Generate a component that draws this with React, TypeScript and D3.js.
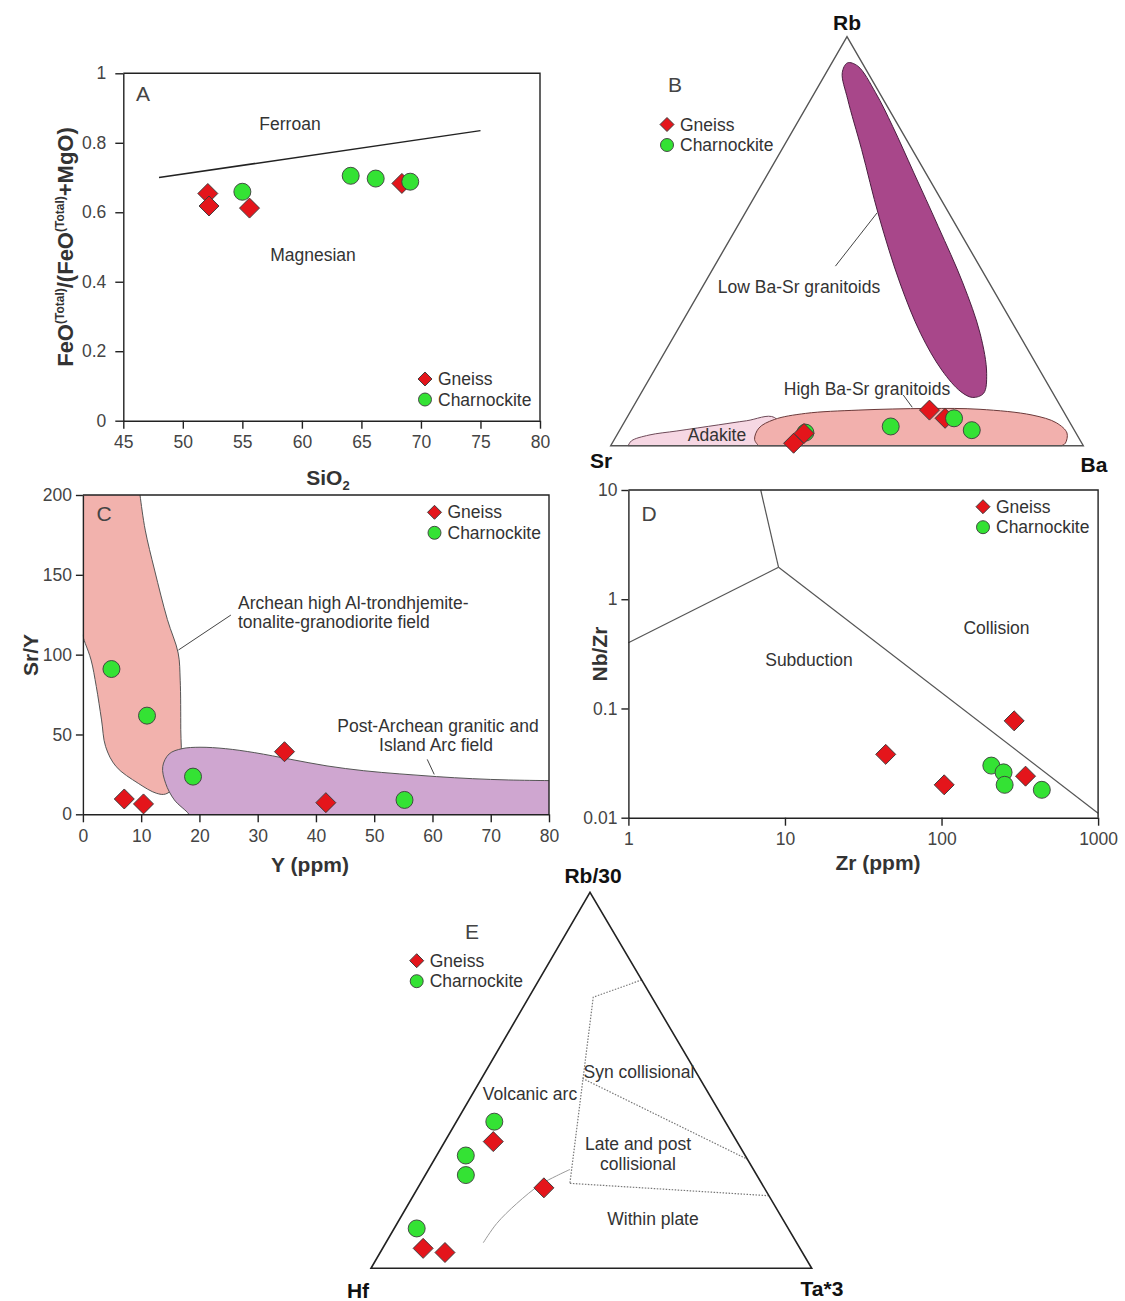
import { useEffect, useRef } from "react"
import * as d3 from "d3"

const W = 1125
const H = 1301
const FONT = "'Liberation Sans', Arial, Helvetica, sans-serif"
const RED = "#e4151b"
const GREEN = "#34e234"

// A: FeOt/(FeOt+MgO) vs SiO2
const aGneiss = [[52.1, 0.654], [52.2, 0.618], [55.6, 0.612], [68.4, 0.683]]
const aCharnockite = [[55.0, 0.659], [64.1, 0.705], [66.2, 0.697], [69.1, 0.688]]
const aFerroanLine = [[48, 0.7], [75, 0.835]]
const aXTicks = [45, 50, 55, 60, 65, 70, 75, 80]
const aYTicks = [0, 0.2, 0.4, 0.6, 0.8, 1]

// B: Rb-Ba-Sr ternary, [Sr, Ba, Rb] in %
const bGneiss = [[61.0, 38.4, 0.6], [57.6, 39.4, 3.0], [28.2, 63.1, 8.7], [25.9, 67.4, 6.7]]
const bCharnockite = [[57.2, 39.6, 3.2], [38.4, 56.9, 4.7], [24.0, 69.3, 6.7], [21.7, 74.5, 3.8]]
const bLowBaSr = [
  [3.1, 3.3, 93.6], [1.3, 5.9, 92.8], [0.8, 12.9, 86.3], [1.3, 20.6, 78.1], [2.5, 30.8, 66.7],
  [3.9, 42.5, 53.6], [5.6, 54.6, 39.8], [8.1, 64.4, 27.5], [11.6, 70.7, 17.7], [14.7, 72.5, 12.8],
  [17.5, 70.7, 11.8], [19.3, 67.5, 13.2], [20.7, 60.8, 18.5], [20.7, 51.8, 27.5], [18.9, 41.3, 39.8],
  [15.2, 28.7, 56.1], [10.7, 16.9, 72.4], [7.5, 7.8, 84.7], [5.4, 3.4, 91.2],
]
const bHighBaSr = [
  [68.7, 31.3, 0], [68.8, 29.7, 1.5], [66.5, 29.2, 4.3], [62.2, 31.4, 6.4], [54.8, 37.3, 7.9],
  [43.3, 48.0, 8.7], [28.4, 62.5, 9.1], [17.4, 73.7, 8.9], [7.1, 85.4, 7.5], [2.9, 91.5, 5.6],
  [1.9, 95.0, 3.1], [3.5, 95.9, 0.6], [4.6, 95.4, 0],
]
const bAdakite = [
  [96.3, 3.7, 0], [95.0, 3.8, 1.2], [90.6, 6.8, 2.6], [84.2, 12.2, 3.6], [74.6, 20.3, 5.1],
  [68.2, 25.7, 6.1], [61.9, 31.2, 6.9], [62.4, 37.6, 0],
]
const bLowLeader = [[30.5, 25.6, 43.9], [15.2, 27.9, 56.9]]
const bHighLeader = [[31.9, 55.7, 12.4], [31.5, 59.1, 9.4]]

// C: Sr/Y vs Y
const cGneiss = [[7.1, 9.6], [10.4, 6.5], [34.6, 39.2], [41.7, 7.3]]
const cCharnockite = [[4.9, 91.0], [11.0, 61.8], [18.9, 23.6], [55.2, 9.0]]
const cArchean = [
  [9.6, 206], [9.8, 200], [10.7, 178], [12.3, 153], [14.5, 122], [16.35, 101], [16.7, 84],
  [16.8, 53], [16.8, 32], [15.7, 17.3], [14.2, 12.7], [12.6, 13.2], [9.5, 19.4], [5.7, 29.9],
  [3.9, 42.4], [3.2, 59.1], [2.3, 80], [1.4, 96.7], [0.4, 107.1], [-0.3, 113.4], [-1.2, 116],
]
const cPostArchean = [
  [18.6, -4], [18.2, 0], [15.7, 9], [14.2, 19.4], [13.7, 29.9], [14.8, 37.8], [17, 41.1],
  [20.1, 42], [24.5, 41.1], [29.5, 38.6], [35.7, 34.4], [41.9, 30.3], [48.2, 27.3], [54.4, 25.3],
  [60.7, 23.6], [66.9, 22.3], [73.1, 21.5], [80, 21.1], [83, 21],
]
const cArcheanLeader = [[16.4, 102.9], [25.4, 124.8]]
const cPostLeader = [[60.3, 25.0], [59.1, 34.4]]
const cXTicks = [0, 10, 20, 30, 40, 50, 60, 70, 80]
const cYTicks = [0, 50, 100, 150, 200]

// D: Nb/Zr vs Zr
const dGneiss = [[44, 0.038], [104, 0.02], [291, 0.077], [344, 0.024]]
const dCharnockite = [[208, 0.03], [249, 0.026], [253, 0.02], [437, 0.018]]
const dBoundaries = [
  [[7.0, 10], [9.1, 1.96]],
  [[1, 0.4], [9.1, 1.96]],
  [[9.1, 1.96], [1000, 0.011]],
]
const dXTicks = [1, 10, 100, 1000]
const dYTicks = [0.01, 0.1, 1, 10]

// E: Hf - Rb/30 - Ta*3 ternary, [Hf, Ta*3, Rb/30] in %
const eGneiss = [[85.5, 9.2, 5.3], [81.1, 14.7, 4.2], [55.3, 11.0, 33.7], [50.0, 28.6, 21.4]]
const eCharnockite = [[84.3, 5.1, 10.6], [63.4, 6.6, 30.0], [66.0, 9.2, 24.8], [52.4, 8.6, 39.0]]
const eDotted = [
  [[0, 23.3, 76.7], [13.3, 14.6, 72.1], [43.5, 33.9, 22.6]],
  [[26.6, 22.9, 50.5], [0, 71.0, 29.0]],
  [[43.5, 33.9, 22.6], [0, 80.7, 19.3]],
]
const eWithinPlate = [
  [71.1, 22.1, 6.8], [65.5, 22.6, 11.9], [58.3, 24.5, 17.2], [50.5, 27.3, 22.2],
  [45.5, 29.9, 24.6], [41.6, 32.1, 26.3],
]

function diamond(g, x, y, half) {
  g.append("path")
    .attr("d", d3.symbol(d3.symbolSquare, 2 * half * half)())
    .attr("transform", `translate(${x},${y}) rotate(45)`)
    .attr("fill", RED)
    .attr("stroke", "#3b3b3b")
    .attr("stroke-width", 0.9)
}

function dot(g, x, y, r) {
  g.append("circle")
    .attr("cx", x)
    .attr("cy", y)
    .attr("r", r)
    .attr("fill", GREEN)
    .attr("stroke", "#3b3b3b")
    .attr("stroke-width", 0.9)
}

function label(g, x, y, s, o: any = {}) {
  return g
    .append("text")
    .attr("x", x)
    .attr("y", y)
    .attr("text-anchor", o.anchor || "middle")
    .attr("font-size", o.size || 17.5)
    .attr("font-weight", o.bold ? "bold" : null)
    .attr("fill", o.fill || "#333")
    .text(s)
}

function legend(g, x, y) {
  diamond(g, x, y, 7)
  label(g, x + 13, y + 6, "Gneiss", { anchor: "start" })
  dot(g, x, y + 20.5, 6.5)
  label(g, x + 13, y + 26.5, "Charnockite", { anchor: "start" })
}

// diamonds listed in onTop are drawn above the circles
function points(g, gneiss, charn, proj, onTop: number[] = []) {
  gneiss.forEach((p, i) => {
    if (!onTop.includes(i)) diamond(g, ...proj(p), 10)
  })
  charn.forEach((p) => dot(g, ...proj(p), 8.5))
  gneiss.forEach((p, i) => {
    if (onTop.includes(i)) diamond(g, ...proj(p), 10)
  })
}

function frame(g, x, y, xTicks, yTicks, fmt, leftTick, leftPad) {
  const [x0, x1] = x.range()
  const [y0, y1] = y.range()
  const bx = g
    .append("g")
    .attr("transform", `translate(0,${y0})`)
    .call(d3.axisBottom(x).tickValues(xTicks).tickFormat(fmt).tickSize(8).tickPadding(7).tickSizeOuter(0))
  const by = g
    .append("g")
    .attr("transform", `translate(${x0},0)`)
    .call(d3.axisLeft(y).tickValues(yTicks).tickFormat(fmt).tickSize(leftTick).tickPadding(leftPad).tickSizeOuter(0))
  for (const a of [bx, by]) {
    a.attr("font-family", FONT).attr("font-size", 17.5)
    a.selectAll("path, line").attr("stroke", "#222").attr("stroke-width", 1.4)
    a.selectAll("text").attr("fill", "#444")
  }
  g.append("path")
    .attr("d", `M${x0},${y1}H${x1}V${y0}`)
    .attr("fill", "none")
    .attr("stroke", "#222")
    .attr("stroke-width", 1.4)
}

function ternary(L, R, T) {
  return (p) => {
    const s = p[0] + p[1] + p[2]
    return [(p[0] * L[0] + p[1] * R[0] + p[2] * T[0]) / s, (p[0] * L[1] + p[1] * R[1] + p[2] * T[1]) / s]
  }
}

const fmt = d3.format("~g")

function drawA(svg) {
  const g = svg.append("g")
  const x = d3.scaleLinear().domain([45, 80]).range([123.3, 540])
  const y = d3.scaleLinear().domain([0, 1]).range([420.7, 73.3])
  const xy = (d) => [x(d[0]), y(d[1])]

  g.append("path")
    .attr("d", d3.line()(aFerroanLine.map(xy)))
    .attr("stroke", "#222")
    .attr("stroke-width", 1.5)
    .attr("fill", "none")

  points(g, aGneiss, aCharnockite, xy)
  frame(g, x, y, aXTicks, aYTicks, fmt, 8, 9)

  label(g, 143, 100.5, "A", { size: 21, fill: "#444" })
  label(g, 290, 130, "Ferroan")
  label(g, 313, 261, "Magnesian")
  legend(g, 425, 379)

  const xt = label(g, 328, 485, "SiO", { size: 21, bold: true, fill: "#333" })
  xt.append("tspan").attr("dy", 5).attr("font-size", 13).text("2")

  const yt = g
    .append("text")
    .attr("transform", "translate(73,247) rotate(-90)")
    .attr("text-anchor", "middle")
    .attr("font-size", 22)
    .attr("font-weight", "bold")
    .attr("fill", "#333")
  yt.append("tspan").text("FeO")
  yt.append("tspan").attr("dy", -9).attr("font-size", 12).text("(Total)")
  yt.append("tspan").attr("dy", 9).text("/(FeO")
  yt.append("tspan").attr("dy", -9).attr("font-size", 12).text("(Total)")
  yt.append("tspan").attr("dy", 9).text("+MgO)")
}

function drawB(svg) {
  const g = svg.append("g")
  const L = [610.7, 445.7]
  const R = [1083.3, 445.7]
  const T = [847, 36.7]
  const tp = ternary(L, R, T)
  const open = d3.line().curve(d3.curveCatmullRom.alpha(0.5))
  const closed = d3.line().curve(d3.curveCatmullRomClosed.alpha(0.5))

  g.append("path")
    .attr("d", open(bAdakite.map(tp)) + "Z")
    .attr("fill", "#f6d7e3")
    .attr("stroke", "#6d4a58")
    .attr("stroke-width", 1)
  g.append("path")
    .attr("d", open(bHighBaSr.map(tp)) + "Z")
    .attr("fill", "#f2b0ad")
    .attr("stroke", "#6b3a3a")
    .attr("stroke-width", 1)
  g.append("path")
    .attr("d", closed(bLowBaSr.map(tp)))
    .attr("fill", "#a8478a")
    .attr("stroke", "#4a1e40")
    .attr("stroke-width", 1)

  g.append("path")
    .attr("d", d3.line()([L, R, T]) + "Z")
    .attr("fill", "none")
    .attr("stroke", "#555")
    .attr("stroke-width", 1.4)

  for (const ld of [bLowLeader, bHighLeader]) {
    g.append("path").attr("d", d3.line()(ld.map(tp))).attr("stroke", "#444").attr("stroke-width", 1).attr("fill", "none")
  }

  points(g, bGneiss, bCharnockite, tp, [0, 1])

  label(g, 847, 30, "Rb", { size: 21, bold: true, fill: "#111" })
  label(g, 601, 468, "Sr", { size: 21, bold: true, fill: "#111" })
  label(g, 1094, 472, "Ba", { size: 21, bold: true, fill: "#111" })
  label(g, 675, 91.5, "B", { size: 21, fill: "#444" })
  legend(g, 667, 124.5)
  label(g, 799, 292.5, "Low Ba-Sr granitoids")
  label(g, 867, 394.5, "High Ba-Sr granitoids")
  label(g, 717, 441, "Adakite")
}

function drawC(svg) {
  const g = svg.append("g")
  const x = d3.scaleLinear().domain([0, 80]).range([82.9, 549])
  const y = d3.scaleLinear().domain([0, 200]).range([814.3, 495])
  const xy = (d) => [x(d[0]), y(d[1])]
  const open = d3.line().curve(d3.curveCatmullRom.alpha(0.5))

  g.append("clipPath")
    .attr("id", "clipC")
    .append("rect")
    .attr("x", 82.9)
    .attr("y", 495)
    .attr("width", 549 - 82.9)
    .attr("height", 814.3 - 495)
  const f = g.append("g").attr("clip-path", "url(#clipC)")
  f.append("path")
    .attr("d", open(cArchean.map(xy)) + `L${x(-4)},${y(206)}Z`)
    .attr("fill", "#f2b2ad")
    .attr("stroke", "#555")
    .attr("stroke-width", 1)
  f.append("path")
    .attr("d", open(cPostArchean.map(xy)) + `L${x(83)},${y(-4)}Z`)
    .attr("fill", "#cfa6d0")
    .attr("stroke", "#555")
    .attr("stroke-width", 1)

  for (const ld of [cArcheanLeader, cPostLeader]) {
    g.append("path").attr("d", d3.line()(ld.map(xy))).attr("stroke", "#444").attr("stroke-width", 1).attr("fill", "none")
  }

  points(g, cGneiss, cCharnockite, xy)
  frame(g, x, y, cXTicks, cYTicks, fmt, 7, 4)

  label(g, 104, 520.5, "C", { size: 21, fill: "#444" })
  legend(g, 434.5, 512.3)
  label(g, 238, 609, "Archean high Al-trondhjemite-", { anchor: "start" })
  label(g, 238, 628, "tonalite-granodiorite field", { anchor: "start" })
  label(g, 438, 732, "Post-Archean granitic and")
  label(g, 436, 751, "Island Arc field")

  label(g, 310, 872, "Y (ppm)", { size: 21, bold: true })
  g.append("text")
    .attr("transform", "translate(38,655) rotate(-90)")
    .attr("text-anchor", "middle")
    .attr("font-size", 21)
    .attr("font-weight", "bold")
    .attr("fill", "#333")
    .text("Sr/Y")
}

function drawD(svg) {
  const g = svg.append("g")
  const x = d3.scaleLog().domain([1, 1000]).range([628.4, 1098.1])
  const y = d3.scaleLog().domain([0.01, 10]).range([817.7, 490])
  const xy = (d) => [x(d[0]), y(d[1])]

  for (const b of dBoundaries) {
    g.append("path").attr("d", d3.line()(b.map(xy))).attr("stroke", "#555").attr("stroke-width", 1.2).attr("fill", "none")
  }

  points(g, dGneiss, dCharnockite, xy)
  frame(g, x, y, dXTicks, dYTicks, fmt, 7, 4)

  label(g, 649, 520.5, "D", { size: 21, fill: "#444" })
  legend(g, 983, 506.7)
  label(g, 809, 665.5, "Subduction")
  label(g, 996.5, 634, "Collision")

  label(g, 878, 870, "Zr (ppm)", { size: 21, bold: true })
  g.append("text")
    .attr("transform", "translate(607,654) rotate(-90)")
    .attr("text-anchor", "middle")
    .attr("font-size", 21)
    .attr("font-weight", "bold")
    .attr("fill", "#333")
    .text("Nb/Zr")
}

function drawE(svg) {
  const g = svg.append("g")
  const L = [371, 1268.3]
  const R = [811.7, 1268.3]
  const T = [590, 892.3]
  const tp = ternary(L, R, T)

  for (const b of eDotted) {
    g.append("path")
      .attr("d", d3.line()(b.map(tp)))
      .attr("stroke", "#777")
      .attr("stroke-width", 1.2)
      .attr("stroke-dasharray", "1.5 1.5")
      .attr("fill", "none")
  }
  g.append("path")
    .attr("d", d3.line().curve(d3.curveCatmullRom.alpha(0.5))(eWithinPlate.map(tp)))
    .attr("stroke", "#9a9a9a")
    .attr("stroke-width", 1)
    .attr("fill", "none")

  g.append("path")
    .attr("d", d3.line()([L, R, T]) + "Z")
    .attr("fill", "none")
    .attr("stroke", "#222")
    .attr("stroke-width", 1.6)

  points(g, eGneiss, eCharnockite, tp)

  label(g, 593, 882.5, "Rb/30", { size: 21, bold: true, fill: "#111" })
  label(g, 358, 1297.5, "Hf", { size: 21, bold: true, fill: "#111" })
  label(g, 822, 1296, "Ta*3", { size: 21, bold: true, fill: "#111" })
  label(g, 472, 939, "E", { size: 21, fill: "#444" })
  legend(g, 416.7, 960.7)
  label(g, 530, 1099.5, "Volcanic arc")
  label(g, 639, 1078, "Syn collisional")
  label(g, 638, 1149.5, "Late and post")
  label(g, 638, 1169.5, "collisional")
  label(g, 653, 1225, "Within plate")
}

export default function App() {
  const svgRef = useRef(null)

  useEffect(() => {
    if (!svgRef.current) return
    const svg = d3.select(svgRef.current)
    svg.selectAll("*").remove()
    svg.append("rect").attr("width", W).attr("height", H).attr("fill", "#fff")
    drawA(svg)
    drawB(svg)
    drawC(svg)
    drawD(svg)
    drawE(svg)
  }, [])

  return (
    <svg
      ref={svgRef}
      width={W}
      height={H}
      viewBox={`0 0 ${W} ${H}`}
      style={{ position: "absolute", left: 0, top: 0, fontFamily: FONT }}
    />
  )
}
